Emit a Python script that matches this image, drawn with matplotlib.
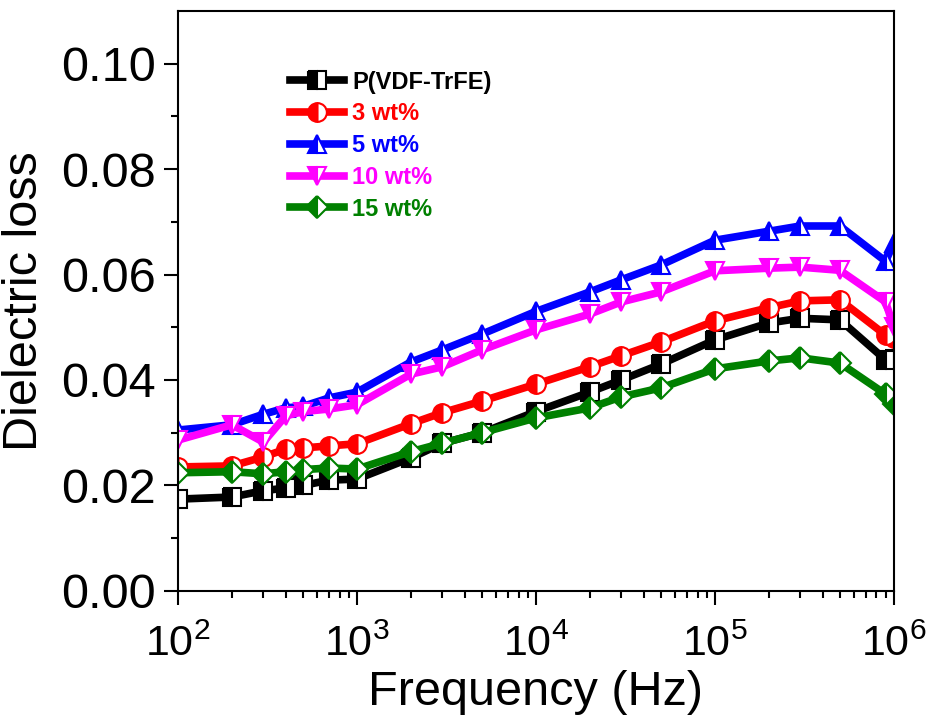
import matplotlib.pyplot as plt
import numpy as np

plt.rcParams['font.family'] = ['Liberation Sans', 'DejaVu Sans']
plt.rcParams['mathtext.fontset'] = 'custom'
plt.rcParams['mathtext.rm'] = 'Liberation Sans'
plt.rcParams['mathtext.it'] = 'Liberation Sans:italic'
plt.rcParams['mathtext.bf'] = 'Liberation Sans:bold'

# 数据
freq = [100, 200, 300, 400, 500, 700, 1e3, 2e3, 3e3, 5e3, 1e4, 2e4, 3e4, 5e4,
        1e5, 2e5, 3e5, 5e5, 9e5, 1e6]

pvdf = [0.0174, 0.0178, 0.0190, 0.0195, 0.0200, 0.0210, 0.0212, 0.0252, 0.0280, 0.0300,
        0.0340, 0.0377, 0.0400, 0.0430, 0.0476, 0.0508, 0.0517, 0.0514, 0.0438, 0.0440]
wt3 = [0.0235, 0.0237, 0.0254, 0.0269, 0.0271, 0.0275, 0.0279, 0.0317, 0.0338, 0.0360,
       0.0392, 0.0425, 0.0446, 0.0472, 0.0512, 0.0537, 0.0550, 0.0552, 0.0485, 0.0480]
wt5 = [0.0305, 0.0315, 0.0335, 0.0347, 0.0350, 0.0366, 0.0377, 0.0434, 0.0457, 0.0487,
       0.0530, 0.0567, 0.0590, 0.0618, 0.0665, 0.0682, 0.0692, 0.0692, 0.0625, 0.0660]
wt10 = [0.0286, 0.0315, 0.0282, 0.0332, 0.0340, 0.0345, 0.0353, 0.0411, 0.0425, 0.0457,
        0.0495, 0.0525, 0.0548, 0.0567, 0.0607, 0.0612, 0.0614, 0.0608, 0.0548, 0.0500]
wt15 = [0.0224, 0.0226, 0.0222, 0.0226, 0.0230, 0.0233, 0.0231, 0.0264, 0.0280, 0.0300,
        0.0328, 0.0347, 0.0368, 0.0385, 0.0421, 0.0436, 0.0442, 0.0432, 0.0373, 0.0355]

series = [
    (pvdf, 'P(VDF-TrFE)', 'black', 's'),
    (wt3, '3 wt%', 'red', 'o'),
    (wt5, '5 wt%', 'blue', '^'),
    (wt10, '10 wt%', 'magenta', 'v'),
    (wt15, '15 wt%', 'green', 'D'),
]

fig = plt.figure(figsize=(9.32, 7.25), dpi=100)
ax = fig.add_axes([0.191, 0.185, 0.768, 0.800])

for y, label, color, marker in series:
    ax.plot(freq, y, color=color, lw=5.5, marker=marker, markersize=13.5 if marker != 'D' else 11.5,
            fillstyle='left', markerfacecolor=color, markerfacecoloralt='white',
            markeredgecolor=color, markeredgewidth=1.5, label=label)

ax.set_xscale('log')
ax.set_xlim(100, 1e6)
ax.set_ylim(0, 0.11)
ax.set_yticks([0.00, 0.02, 0.04, 0.06, 0.08, 0.10])
ax.set_yticklabels(['0.00', '0.02', '0.04', '0.06', '0.08', '0.10'])
ax.set_yticks(np.arange(0.01, 0.11, 0.02), minor=True)

ax.tick_params(which='major', direction='out', length=10, width=1.5)
ax.tick_params(which='minor', direction='out', length=5, width=1.5)
ax.tick_params(axis='y', which='major', labelsize=35, pad=6)
ax.tick_params(axis='x', which='major', labelsize=31, pad=14)
for s in ax.spines.values():
    s.set_linewidth(1.5)

ax.set_xlabel('Frequency (Hz)', fontsize=35, labelpad=4)
ax.set_ylabel('Dielectric loss', fontsize=35, labelpad=10)

leg = ax.legend(loc='upper left', bbox_to_anchor=(0.156, 0.897), frameon=False,
                handlelength=2.3, handletextpad=0.35, labelspacing=0.37,
                prop={'weight': 'bold', 'size': 17}, borderaxespad=0, borderpad=0)
for text, (_, _, color, _) in zip(leg.get_texts(), series):
    text.set_color(color)

fig.savefig('out.png', dpi=100)
